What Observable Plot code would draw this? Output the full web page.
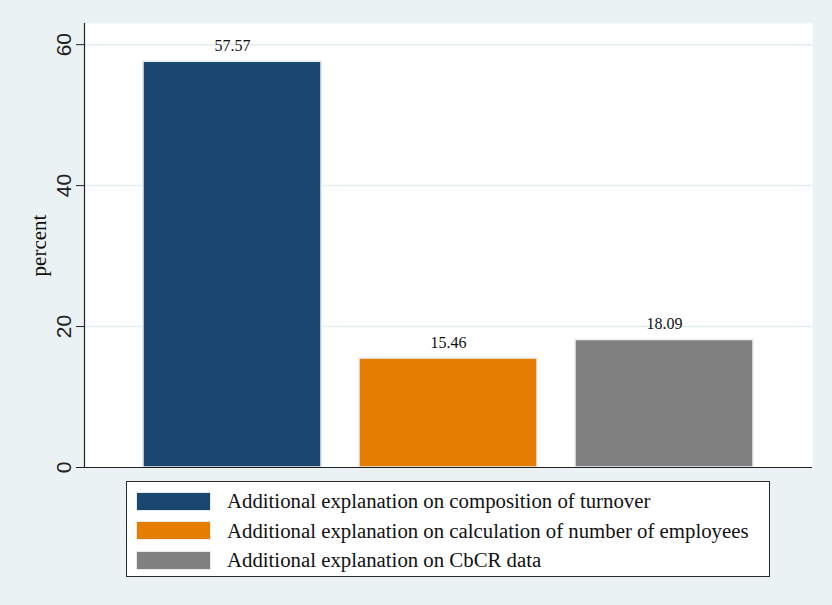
<!DOCTYPE html>
<html>
<head>
<meta charset="utf-8">
<script src="https://cdn.jsdelivr.net/npm/d3@7"></script>
<script src="https://cdn.jsdelivr.net/npm/@observablehq/plot@0.6"></script>
<style>
  html, body { margin: 0; padding: 0; background: #EAF2F3; }
  #wrap { position: relative; width: 832px; height: 605px; background: #EAF2F3; overflow: hidden; }
  #chart svg { display: block; }
  #legend {
    position: absolute; left: 126px; top: 481px; width: 642px; height: 94px;
    background: #fff; border: 1.5px solid #2b2b2b; box-sizing: content-box;
  }
  .row { position: absolute; left: 9px; height: 20px; display: flex; align-items: center; }
  .sw { width: 75px; height: 19px; box-sizing: border-box; border: 1.5px solid #e6ecee; margin-right: 16px; flex: none; }
  .lab { white-space: nowrap; line-height: 20px; }
</style>
</head>
<body>
<div id="wrap">
  <div id="chart"></div>
  <div id="legend"></div>
</div>
<script>
// Data
const categories = [
  "Additional explanation on composition of turnover",
  "Additional explanation on calculation of number of employees",
  "Additional explanation on CbCR data"
];
const values = [57.57, 15.46, 18.09];
const colors = ["#1A476F", "#E57E00", "#808080"];
const yTicks = [0, 20, 40, 60];
const yLabel = "percent";

const SERIF = "'Liberation Serif', 'Times New Roman', Times, serif";
const SANS = "'Liberation Sans Narrow', 'Liberation Sans', Arial, sans-serif";

const data = categories.map((c, i) => ({category: c, value: values[i]}));

const plot = Plot.plot({
  width: 832,
  height: 475,
  marginLeft: 84,
  marginRight: 20,
  marginTop: 23,
  marginBottom: 8,
  style: {background: "#EAF2F3", overflow: "visible"},
  x: {domain: categories, paddingInner: 0.176, paddingOuter: 0.273, axis: null},
  y: {domain: [0, 63], axis: null},
  color: {domain: categories, range: colors},
  marks: [
    Plot.frame({fill: "white", stroke: "none"}),
    Plot.ruleY(yTicks.filter(d => d > 0), {stroke: "#E3EDEF", strokeWidth: 1.5}),
    Plot.barY(data, {x: "category", y: "value", fill: "category", stroke: "#E8EEF0", strokeWidth: 1.5}),
    Plot.text(data, {x: "category", y: "value", text: d => d.value.toFixed(2), dy: -16,
      fontSize: 16, fontFamily: SERIF, fill: "#111"}),
    Plot.ruleY([0], {stroke: "#222", strokeWidth: 1.2}),
    Plot.frame({anchor: "left", stroke: "#222", strokeWidth: 1.2}),
    Plot.axisY(yTicks, {tickSize: 8, tickPadding: 6, tickRotate: -90, fontSize: 21,
      fontFamily: SANS, color: "#222", label: null, textStroke: "none"}),
    Plot.text([yLabel], {frameAnchor: "left", dx: -45, rotate: -90, textAnchor: "middle", fontSize: 21,
      fontFamily: SERIF, fill: "#111"})
  ]
});
document.getElementById("chart").appendChild(plot);

// Legend
const legend = d3.select("#legend");
categories.forEach((c, i) => {
  const row = legend.append("div").attr("class", "row").style("top", (9 + i * 29.5) + "px");
  row.append("div").attr("class", "sw").style("background", colors[i]);
  row.append("div").attr("class", "lab")
    .style("font-family", SERIF).style("font-size", "20.8px").style("color", "#111")
    .text(c);
});
</script>
</body>
</html>
